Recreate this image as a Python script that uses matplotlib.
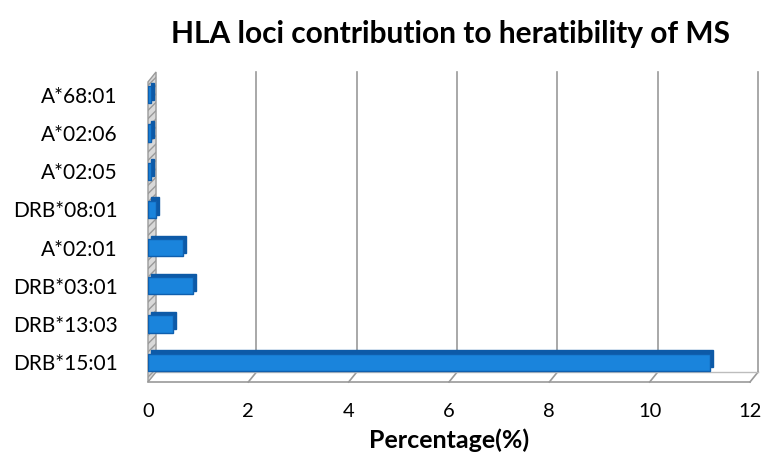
import matplotlib.pyplot as plt
from matplotlib.patches import Polygon

plt.rcParams['font.family'] = ['Lato', 'DejaVu Sans']

alleles = ['DRB*15:01', 'DRB*13:03', 'DRB*03:01', 'A*02:01',
           'DRB*08:01', 'A*02:05', 'A*02:06', 'A*68:01']
percent = [11.2, 0.5, 0.9, 0.7, 0.15, 0.05, 0.05, 0.05]
xticks = [0, 2, 4, 6, 8, 10, 12]

fig = plt.figure(figsize=(7.8, 4.74), dpi=100)
ax = fig.add_axes([148 / 780, 92 / 474, 602 / 780, 310 / 474])

ylo, yhi = -0.52, 7.6
dx, dy = 0.16, 0.26  # pseudo 3D depth
ax.set_xlim(0, 12)
ax.set_ylim(ylo, yhi)

# back wall gridlines and floor
for x in xticks[1:]:
    ax.plot([x + dx, x + dx], [ylo + dy, yhi], color='#9a9a9a', lw=1.2, clip_on=False)
    ax.plot([x, x + dx], [ylo, ylo + dy], color='#9a9a9a', lw=1.2, clip_on=False)
ax.plot([0, 12], [ylo, ylo], color='#9a9a9a', lw=1.2, clip_on=False)
ax.plot([dx, 12 + dx], [ylo + dy, ylo + dy], color='#bdbdbd', lw=1, clip_on=False)

# left wall
wall = Polygon([(0, ylo), (dx, ylo + dy), (dx, yhi), (0, yhi - dy)], closed=True,
               facecolor='#d9d9d9', edgecolor='#9a9a9a', hatch='////', lw=1,
               clip_on=False, zorder=2)
ax.add_patch(wall)

# bars: darker depth face behind, front face on top
y = list(range(len(alleles)))
ax.barh([v + dy * 0.35 for v in y], percent, height=0.45, left=dx * 0.4,
        color='#0d5aa7', edgecolor='#0d5aa7', zorder=3)
ax.barh(y, percent, height=0.45, color='#1a84dc', edgecolor='#0f5fae',
        lw=1, zorder=4)

ax.set_yticks(y)
ax.set_yticklabels(alleles, fontsize=15)
ax.set_xticks(xticks)
ax.set_xticklabels([str(t) for t in xticks], fontsize=14.5)
ax.tick_params(axis='y', length=0, pad=22)
ax.tick_params(axis='x', length=0, pad=15)
for s in ax.spines.values():
    s.set_visible(False)

ax.set_xlabel('Percentage(%)', fontsize=18, fontweight='bold', labelpad=6)
fig.text(0.577, 0.928, 'HLA loci contribution to heratibility of MS',
         ha='center', va='center', fontsize=21.5, fontweight='bold')

fig.savefig('out.png', dpi=100)
